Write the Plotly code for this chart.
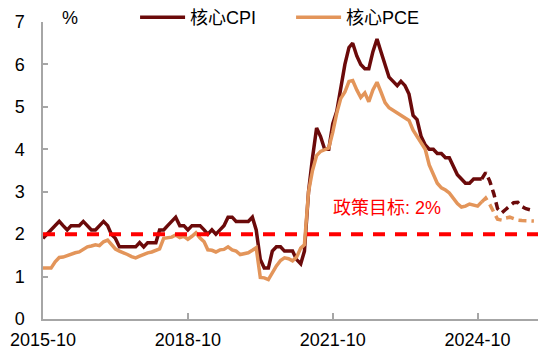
import plotly.graph_objects as go
import pandas as pd

# ---------------- data ----------------
START = "2015-10-01"

# US core CPI YoY (%), monthly from 2015-10 to 2024-11 (solid)
core_cpi = [
    1.9, 2.0, 2.1,
    2.2, 2.3, 2.2, 2.1, 2.2, 2.2, 2.2, 2.3, 2.2, 2.1, 2.1, 2.2,
    2.3, 2.2, 2.0, 1.9, 1.7, 1.7, 1.7, 1.7, 1.7, 1.8, 1.7, 1.8,
    1.8, 1.8, 2.1, 2.1, 2.2, 2.3, 2.4, 2.2, 2.2, 2.1, 2.2, 2.2,
    2.2, 2.1, 2.0, 2.1, 2.0, 2.1, 2.2, 2.4, 2.4, 2.3, 2.3, 2.3,
    2.3, 2.4, 2.1, 1.4, 1.2, 1.2, 1.6, 1.7, 1.7, 1.6, 1.6, 1.6,
    1.4, 1.3, 1.6, 3.0, 3.8, 4.5, 4.3, 4.0, 4.0, 4.6, 4.9, 5.5,
    6.0, 6.4, 6.5, 6.2, 6.0, 5.9, 5.9, 6.3, 6.6, 6.3, 6.0, 5.7,
    5.6, 5.5, 5.6, 5.5, 5.3, 4.8, 4.7, 4.3, 4.1, 4.0, 4.0, 3.9,
    3.9, 3.8, 3.8, 3.6, 3.4, 3.3, 3.2, 3.2, 3.3, 3.3, 3.3,
]

# US core PCE YoY (%), monthly from 2015-10 to 2024-11 (solid)
core_pce = [
    1.2, 1.2, 1.2,
    1.35, 1.45, 1.46, 1.5, 1.53, 1.56, 1.58, 1.65, 1.7, 1.72, 1.75, 1.73,
    1.82, 1.86, 1.75, 1.65, 1.6, 1.57, 1.52, 1.47, 1.44, 1.48, 1.53, 1.56,
    1.58, 1.62, 1.65, 1.9, 1.92, 1.93, 1.98, 1.92, 1.95, 1.88, 1.95, 2.03,
    1.91, 1.82, 1.63, 1.62, 1.58, 1.63, 1.64, 1.7, 1.63, 1.6, 1.52, 1.54,
    1.56, 1.62, 1.68, 0.98, 0.97, 0.93, 1.1, 1.25, 1.38, 1.44, 1.42, 1.37,
    1.46, 1.67, 1.75, 3.0, 3.5, 3.85, 3.95, 4.0, 4.03, 4.4, 4.86, 5.2,
    5.35, 5.6, 5.62, 5.4, 5.22, 5.33, 5.12, 5.4, 5.58, 5.35, 5.1, 4.98,
    4.92, 4.85, 4.8, 4.76, 4.68, 4.45, 4.3, 4.15, 4.0, 3.63, 3.4, 3.2,
    3.09, 3.04, 2.97, 2.85, 2.72, 2.64, 2.66, 2.71, 2.68, 2.66, 2.76,
]

# projected path (dashed), monthly from 2024-11 to 2025-12
cpi_proj = [3.3, 3.45, 3.25, 2.95, 2.6, 2.5, 2.58, 2.66, 2.74, 2.75, 2.65, 2.6, 2.57, 2.55]
pce_proj = [2.76, 2.85, 2.7, 2.5, 2.35, 2.33, 2.38, 2.4, 2.36, 2.33, 2.32, 2.32, 2.31, 2.31]

TARGET = 2.0
TARGET_LABEL = "政策目标: 2%"
x_tickvals = ["2015-10-01", "2018-10-01", "2021-10-01", "2024-10-01"]
x_ticktext = ["2015-10", "2018-10", "2021-10", "2024-10"]
y_tickvals = [0, 1, 2, 3, 4, 5, 6, 7]
X_END = "2026-01-01"

# ---------------- figure ----------------
CPI_COLOR = "#6B0A0A"
PCE_COLOR = "#E3955A"
FONT = "Liberation Sans, Arial, Noto Sans CJK SC, sans-serif"
LW = 3.5

dates = pd.date_range(START, periods=len(core_cpi), freq="MS")
proj_dates = pd.date_range(dates[-1], periods=len(cpi_proj), freq="MS")

fig = go.Figure()
fig.add_trace(go.Scatter(x=dates, y=core_cpi, mode="lines", name="核心CPI",
                         line=dict(color=CPI_COLOR, width=LW)))
fig.add_trace(go.Scatter(x=dates, y=core_pce, mode="lines", name="核心PCE",
                         line=dict(color=PCE_COLOR, width=LW)))
fig.add_trace(go.Scatter(x=proj_dates, y=cpi_proj, mode="lines", showlegend=False,
                         line=dict(color=CPI_COLOR, width=LW, dash="8px,5px")))
fig.add_trace(go.Scatter(x=proj_dates, y=pce_proj, mode="lines", showlegend=False,
                         line=dict(color=PCE_COLOR, width=LW, dash="8px,5px")))

fig.add_shape(type="line", xref="paper", x0=0, x1=1, yref="y", y0=TARGET, y1=TARGET,
              line=dict(color="#FF0000", width=4, dash="12px,10px"), layer="above")

fig.add_annotation(x="2021-09-20", y=TARGET + 0.62, xref="x", yref="y", text=TARGET_LABEL,
                   showarrow=False, xanchor="left", yanchor="middle",
                   font=dict(size=18, color="#FF0000", family=FONT))
fig.add_annotation(x=0.055, y=1.015, xref="paper", yref="paper", text="%",
                   showarrow=False, xanchor="center", yanchor="middle",
                   font=dict(size=18, color="#000000", family=FONT))

fig.update_layout(
    width=550, height=355,
    margin=dict(l=43, r=12, t=22, b=36, autoexpand=False),
    paper_bgcolor="white", plot_bgcolor="white",
    font=dict(family=FONT, size=18, color="#000000"),
    showlegend=True,
    legend=dict(orientation="h", x=0.186, xanchor="left", y=1.015, yanchor="middle",
                font=dict(size=18, family=FONT), itemwidth=45,
                entrywidth=96, entrywidthmode="pixels",
                bgcolor="rgba(0,0,0,0)", borderwidth=0),
    xaxis=dict(type="date", range=[START, X_END], tickmode="array",
               tickvals=x_tickvals, ticktext=x_ticktext,
               ticks="inside", ticklen=6, tickcolor="#A6A6A6", tickwidth=1.5,
               showline=True, linecolor="#A6A6A6", linewidth=1.5,
               showgrid=False, zeroline=False, ticklabelstandoff=4,
               tickfont=dict(size=18, color="#000000"), automargin=False),
    yaxis=dict(range=[0, 7], tickmode="array", tickvals=y_tickvals,
               ticks="inside", ticklen=5, tickcolor="#A6A6A6", tickwidth=1.5,
               showline=True, linecolor="#A6A6A6", linewidth=1.5,
               showgrid=False, zeroline=False, ticklabelstandoff=13,
               tickfont=dict(size=18, color="#000000"), automargin=False),
)

fig.write_html("out.html", config={"displayModeBar": False},
               post_script="document.body.style.margin='0';document.body.style.padding='0';")
